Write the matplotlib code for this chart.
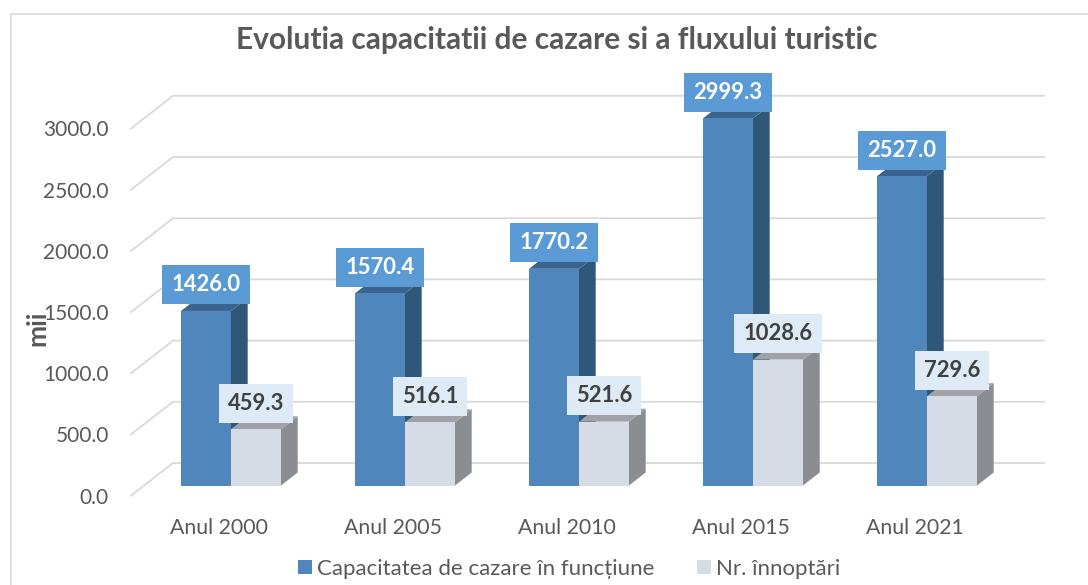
import matplotlib
matplotlib.use("Agg")
import matplotlib.pyplot as plt
from matplotlib.patches import Patch, Polygon, Rectangle

plt.rcParams['font.family'] = ['Lato', 'DejaVu Sans']

categories = ["Anul 2000", "Anul 2005", "Anul 2010", "Anul 2015", "Anul 2021"]
capacitate = [1426.0, 1570.4, 1770.2, 2999.3, 2527.0]
innoptari = [459.3, 516.1, 521.6, 1028.6, 729.6]
y_ticks = [0, 500, 1000, 1500, 2000, 2500, 3000]

W, H = 1088, 585
fig = plt.figure(figsize=(W / 100, H / 100), dpi=100)

# axa are 0 pe peretele din fata, la y=495.7 px
left, right, bottom, top = 131, 1044, 495.7, 95.8
ax = fig.add_axes([left / W, 1 - bottom / H, (right - left) / W, (bottom - top) / H])
px_x = 1 / 174
px_y = 500 / 61.2
ax.set_xlim((left - 231) * px_x, (right - 231) * px_x)
ax.set_ylim(0, (bottom - top) * px_y)
for s in ax.spines.values():
    s.set_visible(False)
ax.patch.set_alpha(0)

grid_c = "#d9d9d9"
x0 = ax.get_xlim()[0]
x1 = x0 + 42 * px_x
x2 = ax.get_xlim()[1]
rise = 32.7 * px_y
for v in y_ticks:
    ax.plot([x0, x1, x2], [v, v + rise, v + rise], color=grid_c, lw=1.3, zorder=1,
            clip_on=False, solid_joinstyle='miter')

bar_w = 50 * px_x
dx = 16.7 * px_x
dy = 13 * px_y
base = 10.2 * px_y


def bar3d(x, val, front, side, top_c):
    y0, y1 = base, base + val
    ax.add_patch(Polygon([(x + bar_w, y0), (x + bar_w + dx, y0 + dy), (x + bar_w + dx, y1 + dy), (x + bar_w, y1)],
                         fc=side, ec='none', zorder=3, clip_on=False))
    ax.add_patch(Polygon([(x, y1), (x + dx, y1 + dy), (x + bar_w + dx, y1 + dy), (x + bar_w, y1)],
                         fc=top_c, ec='none', zorder=3, clip_on=False))
    ax.add_patch(Rectangle((x, y0), bar_w, val, fc=front, ec='none', zorder=4, clip_on=False))


def label(x, val, fc, color):
    ax.annotate(f"{val:.1f}", (x + bar_w / 2, base + val), xytext=(0, 26 * 0.72), textcoords='offset points',
                ha='center', va='center', fontsize=15.8, fontweight='bold', color=color, zorder=6,
                annotation_clip=False,
                bbox=dict(boxstyle='square,pad=0.41', fc=fc, ec='none'))


for i in range(len(categories)):
    bar3d(i - bar_w, capacitate[i], "#4f86bc", "#2f5878", "#3a648e")
for i in range(len(categories)):
    bar3d(i, innoptari[i], "#d6dce5", "#8a8d92", "#a0a2a8")
for i in range(len(categories)):
    label(i - bar_w, capacitate[i], "#5b9bd5", "white")
    label(i, innoptari[i], "#deeaf6", "#404040")

ax.set_yticks(y_ticks)
ax.set_yticklabels([f"{v:.1f}" for v in y_ticks], fontsize=15, color="#595959")
ax.set_xticks([i - 12.5 * px_x for i in range(len(categories))])
ax.set_xticklabels(categories, fontsize=15.3, color="#595959")
ax.tick_params(axis='y', length=0, pad=16)
ax.tick_params(axis='x', length=0, pad=16)

fig.text(556.5 / W, 1 - 39.5 / H, "Evolutia capacitatii de cazare si a fluxului turistic", ha='center', va='center',
         fontsize=21.5, fontweight='bold', color="#595959")
fig.text(37 / W, 1 - 328 / H, "mii", rotation=90, ha='center', va='center',
         fontsize=19, fontweight='bold', color="#595959")

handles = [Patch(fc="#4f86bc", label="Capacitatea de cazare în funcțiune"),
           Patch(fc="#d6dce5", label="Nr. înnoptări")]
leg = fig.legend(handles=handles, loc='center', bbox_to_anchor=(569 / W, 1 - 569 / H), ncol=2, frameon=False,
                 fontsize=16, labelcolor="#595959", handlelength=0.62, handleheight=0.62,
                 handletextpad=0.23, columnspacing=1.94, borderpad=0)

# rama graficului
fig.add_artist(plt.Line2D([10.5 / W, 10.5 / W], [0, 1 - 14 / H], color=grid_c, lw=1.2))
fig.add_artist(plt.Line2D([10.5 / W, 1], [1 - 14 / H, 1 - 14 / H], color=grid_c, lw=1.2))

fig.savefig("out.png", dpi=100)
